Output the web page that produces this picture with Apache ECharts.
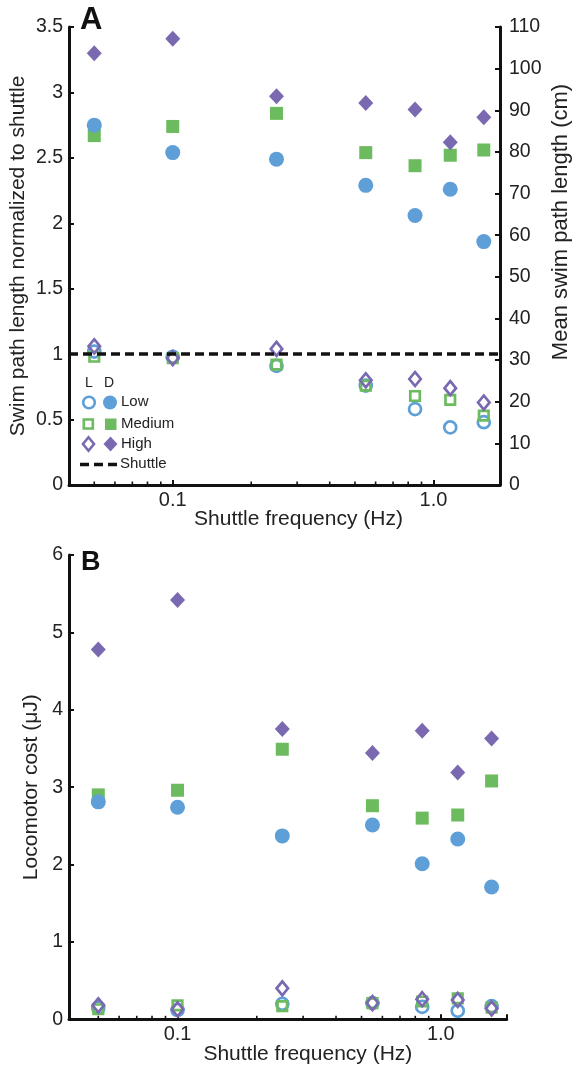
<!DOCTYPE html>
<html>
<head>
<meta charset="utf-8">
<script src="https://cdn.jsdelivr.net/npm/echarts@6/dist/echarts.min.js"></script>
<style>html,body{margin:0;padding:0;background:#fff}#chart{width:573px;height:1066px}</style>
</head>
<body>
<div id="chart"></div>
<script>
// shuttle frequencies (Hz), same for both panels
var freq = [0.05, 0.1, 0.25, 0.55, 0.85, 1.16, 1.56];

// A: swim path length normalized to shuttle (D = dark, L = light)
var pathLowD = [2.75, 2.54, 2.49, 2.29, 2.06, 2.26, 1.86];
var pathMedD = [2.67, 2.74, 2.84, 2.54, 2.44, 2.52, 2.56];
var pathHighD = [3.30, 3.41, 2.97, 2.92, 2.87, 2.62, 2.81];
var pathLowL = [1.02, 0.98, 0.91, 0.76, 0.58, 0.44, 0.48];
var pathMedL = [0.98, 0.97, 0.92, 0.76, 0.68, 0.65, 0.53];
var pathHighL = [1.06, 0.97, 1.04, 0.80, 0.81, 0.74, 0.63];
var shuttleLevel = 1;

// B: locomotor cost (uJ)
var costLowD = [2.81, 2.74, 2.37, 2.51, 2.01, 2.33, 1.71];
var costMedD = [2.90, 2.96, 3.49, 2.76, 2.60, 2.64, 3.08];
var costHighD = [4.78, 5.42, 3.75, 3.44, 3.73, 3.19, 3.63];
var costLowL = [0.15, 0.12, 0.20, 0.21, 0.16, 0.11, 0.17];
var costMedL = [0.13, 0.18, 0.17, 0.21, 0.23, 0.27, 0.15];
var costHighL = [0.18, 0.13, 0.40, 0.21, 0.26, 0.25, 0.14];

// axis ticks
var majorTicks = [0.1, 1];
var majorTickLabels = ['0.1', '1.0'];
var minorTicks = [0.05, 0.06, 0.07, 0.08, 0.09, 0.2, 0.3, 0.4, 0.5, 0.6, 0.7, 0.8, 0.9];

var FONT = 'Liberation Sans, Arial, Helvetica, sans-serif';
var INK = '#111';
var TXT = '#222';
var blue = '#5f9fd8', green = '#6cbb5e', purple = '#7a69b0';

var chart = echarts.init(document.getElementById('chart'));

function pts(ys) {
    return freq.map(function (f, i) { return [f, ys[i]]; });
}

function dot(name, ys, shape, color, open, xi, yi) {
    var size;
    if (shape === 'circle') size = open ? 12 : 15;
    else if (shape === 'rect') size = open ? 9.5 : 13;
    else size = open ? [11.5, 14] : [15, 16];
    return {
        name: name,
        type: 'scatter',
        xAxisIndex: xi,
        yAxisIndex: yi,
        symbol: shape,
        symbolSize: size,
        data: pts(ys),
        itemStyle: open
            ? { color: 'rgba(255,255,255,0)', borderColor: color, borderWidth: 2.7, opacity: 1 }
            : { color: color, opacity: 1 },
        z: open ? 4 : 3
    };
}

function freqLabel(v) {
    for (var i = 0; i < majorTicks.length; i++) {
        if (Math.abs(v - majorTicks[i]) / majorTicks[i] < 1e-6) return majorTickLabels[i];
    }
    return '';
}

function minorTickSeries(xi, yi, yBase) {
    return {
        type: 'custom',
        xAxisIndex: xi,
        yAxisIndex: yi,
        silent: true,
        z: 10,
        data: minorTicks.map(function (v) { return [v, yBase]; }),
        renderItem: function (params, api) {
            var p = api.coord([api.value(0), api.value(1)]);
            return {
                type: 'line',
                shape: { x1: p[0], y1: p[1], x2: p[0], y2: p[1] - 3.5 },
                style: { stroke: INK, lineWidth: 1.6 }
            };
        }
    };
}

function xAxisDef(grid, min, max, padLeft) {
    return {
        gridIndex: grid,
        type: 'log',
        logBase: 10,
        min: min,
        max: max,
        splitLine: { show: false },
        axisLine: { lineStyle: { color: INK, width: 3 } },
        axisTick: { inside: true, length: 5, lineStyle: { color: INK, width: 2 } },
        axisLabel: { formatter: freqLabel, fontSize: 20, color: TXT, fontFamily: FONT, margin: 5 },
        name: 'Shuttle frequency (Hz)',
        nameLocation: 'middle',
        nameGap: 24,
        nameMoveOverlap: false,
        nameTextStyle: { fontSize: 21, color: TXT, fontFamily: FONT, padding: [0, 0, 0, padLeft] }
    };
}

function yAxisDef(grid, pos, min, max, step, name, gap, fontSize, padLeft, margin) {
    return {
        gridIndex: grid,
        type: 'value',
        position: pos,
        min: min,
        max: max,
        interval: step,
        splitLine: { show: false },
        axisLine: { show: true, lineStyle: { color: INK, width: 3 } },
        axisTick: { show: true, inside: true, length: 5, lineStyle: { color: INK, width: 2 } },
        axisLabel: { fontSize: 19.5, color: TXT, fontFamily: FONT, margin: margin },
        name: name,
        nameLocation: 'middle',
        nameRotate: 90,
        nameGap: gap,
        nameMoveOverlap: false,
        nameTextStyle: { fontSize: fontSize, color: TXT, fontFamily: FONT, padding: [0, 0, 0, padLeft] }
    };
}

// legend drawn as graphic (L = open, D = filled columns)
function diamond(cx, cy, w, h) {
    return [[cx, cy - h / 2], [cx + w / 2, cy], [cx, cy + h / 2], [cx - w / 2, cy]];
}
var legendItems = [
    { type: 'text', left: 85, top: 376, style: { text: 'L', font: '14px ' + FONT, fill: TXT } },
    { type: 'text', left: 104, top: 376, style: { text: 'D', font: '14px ' + FONT, fill: TXT } },
    { type: 'circle', shape: { cx: 89, cy: 402.5, r: 5.8 }, style: { fill: 'none', stroke: blue, lineWidth: 2.6 } },
    { type: 'circle', shape: { cx: 110, cy: 402.5, r: 7 }, style: { fill: blue } },
    { type: 'text', left: 121, top: 394, style: { text: 'Low', font: '15px ' + FONT, fill: TXT } },
    { type: 'rect', shape: { x: 83.8, y: 419.5, width: 9, height: 9 }, style: { fill: 'none', stroke: green, lineWidth: 2.6 } },
    { type: 'rect', shape: { x: 105, y: 418.5, width: 11.5, height: 11.5 }, style: { fill: green } },
    { type: 'text', left: 121, top: 416, style: { text: 'Medium', font: '15px ' + FONT, fill: TXT } },
    { type: 'polygon', shape: { points: diamond(88.5, 444, 11, 13.5) }, style: { fill: 'none', stroke: purple, lineWidth: 2.6 } },
    { type: 'polygon', shape: { points: diamond(110.5, 444, 14, 15) }, style: { fill: purple } },
    { type: 'text', left: 121, top: 436, style: { text: 'High', font: '15px ' + FONT, fill: TXT } },
    { type: 'line', shape: { x1: 80, y1: 464.5, x2: 117, y2: 464.5 }, style: { stroke: INK, lineWidth: 3.5, lineDash: [9, 5] } },
    { type: 'text', left: 120, top: 456, style: { text: 'Shuttle', font: '15px ' + FONT, fill: TXT } },
    { type: 'text', left: 80, top: 5, style: { text: 'A', font: 'bold 31px ' + FONT, fill: INK } },
    { type: 'text', left: 81, top: 549, style: { text: 'B', font: 'bold 27px ' + FONT, fill: INK } }
];

var option = {
    animation: false,
    backgroundColor: '#fff',
    grid: [
        { left: 69, top: 27, width: 431, height: 458, outerBoundsMode: 'none' },
        { left: 69, top: 555, width: 437.7, height: 464.3, outerBoundsMode: 'none' }
    ],
    xAxis: [
        xAxisDef(0, 0.04, 1.8, 28),
        xAxisDef(1, 0.0387, 1.78, 40)
    ],
    yAxis: [
        yAxisDef(0, 'left', 0, 3.5, 0.5, 'Swim path length normalized to shuttle', 40, 21, 0, 6),
        yAxisDef(0, 'right', 0, 110, 10, 'Mean swim path length (cm)', 50, 22, 68, 9),
        yAxisDef(1, 'left', 0, 6, 1, 'Locomotor cost (\u03bcJ)', 27, 21, 0, 6)
    ],
    graphic: legendItems,
    series: [
        dot('Medium D', pathMedD, 'rect', green, false, 0, 0),
        dot('Low D', pathLowD, 'circle', blue, false, 0, 0),
        dot('High D', pathHighD, 'diamond', purple, false, 0, 0),
        dot('Low L', pathLowL, 'circle', blue, true, 0, 0),
        dot('Medium L', pathMedL, 'rect', green, true, 0, 0),
        dot('High L', pathHighL, 'diamond', purple, true, 0, 0),
        {
            name: 'Shuttle',
            type: 'line',
            xAxisIndex: 0,
            yAxisIndex: 0,
            data: [],
            markLine: {
                silent: true,
                symbol: 'none',
                label: { show: false },
                lineStyle: { color: INK, width: 3.5, type: [9, 5] },
                data: [{ yAxis: shuttleLevel }]
            }
        },
        dot('Medium D', costMedD, 'rect', green, false, 1, 2),
        dot('Low D', costLowD, 'circle', blue, false, 1, 2),
        dot('High D', costHighD, 'diamond', purple, false, 1, 2),
        dot('Low L', costLowL, 'circle', blue, true, 1, 2),
        dot('Medium L', costMedL, 'rect', green, true, 1, 2),
        dot('High L', costHighL, 'diamond', purple, true, 1, 2),
        minorTickSeries(0, 0, 0),
        minorTickSeries(1, 2, 0)
    ]
};

if (option && typeof option === 'object') {
    chart.setOption(option, true);
}
</script>
</body>
</html>
